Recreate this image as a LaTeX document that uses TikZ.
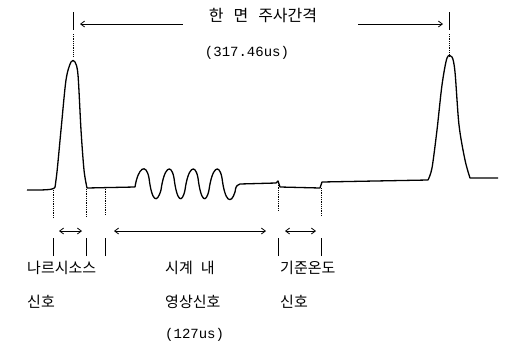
\documentclass[tikz,border=0pt]{standalone}
\usepackage{fontspec}
\newfontfamily\kr{Noto Sans CJK KR}
\setmonofont{Liberation Mono}
\usetikzlibrary{arrows.meta}
\begin{document}
\begin{tikzpicture}[x=1pt,y=-1pt,
  wave/.style={line width=1.3pt,line join=round},
  guide/.style={line width=0.8pt,densely dotted},
  tick/.style={line width=0.9pt},
  dim/.style={line width=0.8pt,{Straight Barb[length=4pt,width=6pt]}-{Straight Barb[length=4pt,width=6pt]}},
  dimr/.style={line width=0.8pt,-{Straight Barb[length=4pt,width=6pt]}},
  diml/.style={line width=0.8pt,{Straight Barb[length=4pt,width=6pt]}-},
  lbl/.style={font=\kr\fontsize{15}{17}\selectfont,anchor=west,inner sep=0pt},
  num/.style={font=\ttfamily\fontsize{14}{16}\selectfont,inner sep=0pt}]
\useasboundingbox (0,0) rectangle (507,346);
% waveform
\draw[wave] plot[smooth,tension=0.5] coordinates {(27,190) (52,189) (56,180) (61,130) (66,80) (71,62) (75,62) (78,75) (81,130) (84,170) (87,188)}
  -- (135,187)
  .. controls (138,168) and (146,162) .. (149,178)
  .. controls (152,202) and (157,204) .. (161,190)
  .. controls (164,168) and (171,162) .. (174,178)
  .. controls (177,202) and (182,204) .. (185,190)
  .. controls (188,168) and (195,162) .. (198,178)
  .. controls (201,202) and (206,204) .. (209,190)
  .. controls (212,168) and (219,162) .. (222,178)
  .. controls (225,202) and (231,205) .. (235,192)
  .. controls (236,186) .. (240,184)
  -- (276,183) -- (278,181) -- (280,187) -- (320,188) -- (322,182) -- (428,180)
  plot[smooth,tension=0.5] coordinates {(428,180) (432,168) (437,130) (442,85) (447,58) (452,57) (455,72) (459,125) (465,160) (470,178)}
  -- (498,178);
% reference points
\coordinate (t1) at (73,12); \coordinate (t1b) at (73,56);
\coordinate (t2) at (449,12); \coordinate (t2b) at (449,56);
\coordinate (g1) at (53,190); \coordinate (g1b) at (53,238);
\coordinate (g2) at (86,189); \coordinate (g2b) at (86,238);
\coordinate (g3) at (105,187); \coordinate (g3b) at (105,238);
\coordinate (g4) at (278,183); \coordinate (g4b) at (278,238);
\coordinate (g5) at (321,188); \coordinate (g5b) at (321,238);
% top guides
\foreach \c in {t1,t2}{
  \draw[tick] (\c) -- ++(0,18);
  \draw[guide] ([yshift=-22]\c) -- (\c b);
}
% bottom guides
\foreach \c in {g1,g2,g3,g4,g5}{
  \draw[guide] (\c) -- ([yshift=-28]\c);
  \draw[tick] ([yshift=-18]\c b) -- (\c b);
}
% top text and arrows
\node[font=\kr\fontsize{16}{18}\selectfont,inner sep=0pt] (title) at (263,16) {한\hspace{10pt}면\hspace{10pt}주사간격};
\node[num] (period) at (247,53) {(317.46us)};
\coordinate (a1) at (80,24); \coordinate (a1e) at (183,24);
\coordinate (a2) at (358,24); \coordinate (a2e) at (443,24);
\draw[diml] (a1) -- (a1e);
\draw[dimr] (a2) -- (a2e);
% bottom dimension arrows
\coordinate (d1a) at (59,231); \coordinate (d1b) at (82,231);
\coordinate (d2a) at (114,231); \coordinate (d2b) at (266,231);
\coordinate (d3a) at (285,231); \coordinate (d3b) at (316,231);
\draw[dim] (d1a) -- (d1b);
\draw[dim] (d2a) -- (d2b);
\draw[dim] (d3a) -- (d3b);
% labels
\node[lbl] (n1) at (27,268) {나르시소스};
\node[lbl] (n2) at (27,302) {신호};
\node[lbl] (v1) at (165,268) {시계\hspace{8pt}내};
\node[lbl] (v2) at (165,302) {영상신호};
\node[num,anchor=west] (v3) at (165,335) {(127us)};
\node[lbl] (r1) at (280,268) {기준온도};
\node[lbl] (r2) at (280,302) {신호};
\end{tikzpicture}
\end{document}
